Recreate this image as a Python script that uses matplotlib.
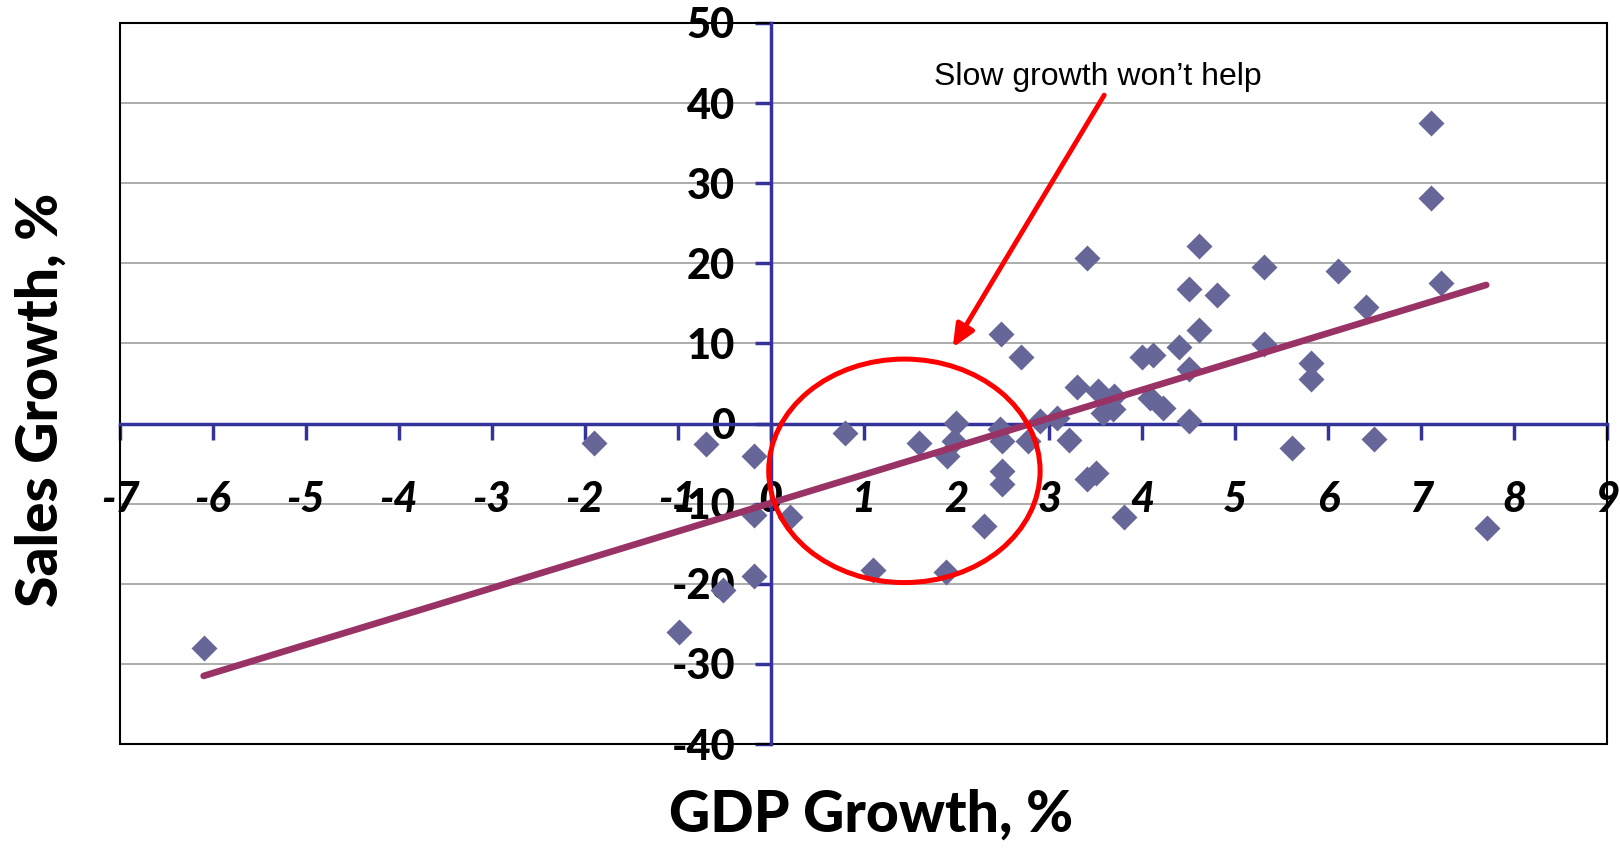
import matplotlib
matplotlib.use("Agg")
import matplotlib.pyplot as plt
from matplotlib.patches import Ellipse, Rectangle

# Annual GDP growth (%) vs. sales growth (%)
gdp_growth = [
    -6.10, -1.90, -0.70, -0.18, -0.18, 0.21, -0.18, -0.51, -0.99, 0.80,
    1.10, 1.60, 1.99, 1.97, 1.90, 1.89, 2.30, 2.47, 2.49, 2.49,
    2.49, 2.48, 2.70, 2.77, 2.90, 3.08, 3.21, 3.30, 3.40, 3.50,
    3.40, 3.52, 3.58, 3.70, 3.68, 3.80, 4.00, 4.11, 4.08, 4.22,
    4.40, 4.50, 4.50, 4.50, 4.61, 4.61, 4.80, 5.31, 5.31, 5.61,
    6.11, 5.81, 5.81, 6.41, 6.49, 7.11, 7.11, 7.21, 7.71,
]
sales_growth = [
    -28.0, -2.4, -2.5, -4.0, -11.4, -11.7, -19.0, -20.8, -26.0, -1.2,
    -18.3, -2.4, 0.1, -2.2, -4.0, -18.5, -12.8, -0.7, -2.2, -5.9,
    -7.6, 11.2, 8.3, -2.2, 0.3, 0.7, -2.0, 4.6, -6.9, -6.2,
    20.7, 4.1, 1.3, 3.4, 1.8, -11.7, 8.3, 8.5, 3.2, 1.9,
    9.6, 16.8, 6.8, 0.3, 22.2, 11.7, 16.0, 19.5, 9.9, -3.0,
    19.0, 7.5, 5.5, 14.5, -1.9, 37.5, 28.2, 17.6, -13.0,
]

# Linear trend endpoints
trend_x = [-6.1, 7.7]
trend_y = [-31.5, 17.3]

x_ticks = list(range(-7, 10))
y_ticks = list(range(-40, 51, 10))

AXIS_BLUE = "#333399"
MARKER = "#666699"
TREND = "#993366"
TICK_FONT = dict(family="Lato", fontsize=30, fontweight="black")

fig = plt.figure(figsize=(16.2, 8.61), dpi=100)
ax = fig.add_axes([120 / 1620, 1 - 744 / 861, 1487 / 1620, 721 / 861])
ax.set_xlim(-7, 9)
ax.set_ylim(-40, 50)

# horizontal gridlines
for yv in y_ticks:
    if yv not in (-40, 0, 50):
        ax.axhline(yv, color="#a6a6a6", lw=1.3, zorder=1)

# black plot frame
ax.add_patch(Rectangle((0, 0), 1, 1, transform=ax.transAxes, fill=False,
                       edgecolor="black", lw=1.5, zorder=2, clip_on=False))

for side in ("top", "right"):
    ax.spines[side].set_visible(False)
for side in ("left", "bottom"):
    ax.spines[side].set_position(("data", 0))
    ax.spines[side].set_color(AXIS_BLUE)
    ax.spines[side].set_linewidth(2.5)
    ax.spines[side].set_zorder(2.5)

ax.set_xticks(x_ticks)
ax.set_xticklabels([str(t) for t in x_ticks], fontstyle="italic", **TICK_FONT)
ax.set_yticks(y_ticks)
ax.set_yticklabels([str(t) for t in y_ticks], **TICK_FONT)
ax.tick_params(axis="x", direction="out", length=11.5, width=2.5,
               color=AXIS_BLUE, pad=30)
ax.tick_params(axis="y", direction="out", length=11.5, width=2.5,
               color=AXIS_BLUE, pad=14)

ax.plot(gdp_growth, sales_growth, ls="none", marker="D", ms=13,
        color=MARKER, mec="none", zorder=3)
ax.plot(trend_x, trend_y, color=TREND, lw=4.8, solid_capstyle="round",
        zorder=4)

ax.add_patch(Ellipse((1.44, -5.9), 2.92, 27.9, fill=False, edgecolor="red",
                     lw=3.6, zorder=5))
ax.annotate("", xy=(1.96, 9.5), xytext=(3.59, 41.0),
            arrowprops=dict(arrowstyle="-|>,head_length=0.9,head_width=0.4",
                            mutation_scale=15, color="red", lw=3.5,
                            shrinkA=0, shrinkB=0), zorder=5)
ax.text(3.52, 42.3, "Slow growth won\u2019t help", family="Liberation Sans",
        fontsize=23, ha="center", va="baseline", zorder=6)

fig.text(871 / 1620, 1 - 832 / 861, "GDP Growth, %", family="Lato",
         fontweight="black", fontsize=41, ha="center", va="baseline")
fig.text(41 / 1620, 1 - 400 / 861, "Sales Growth, %", family="Lato",
         fontweight="black", fontsize=41, ha="center", va="center",
         rotation=90)

fig.savefig("out.png", dpi=100)
